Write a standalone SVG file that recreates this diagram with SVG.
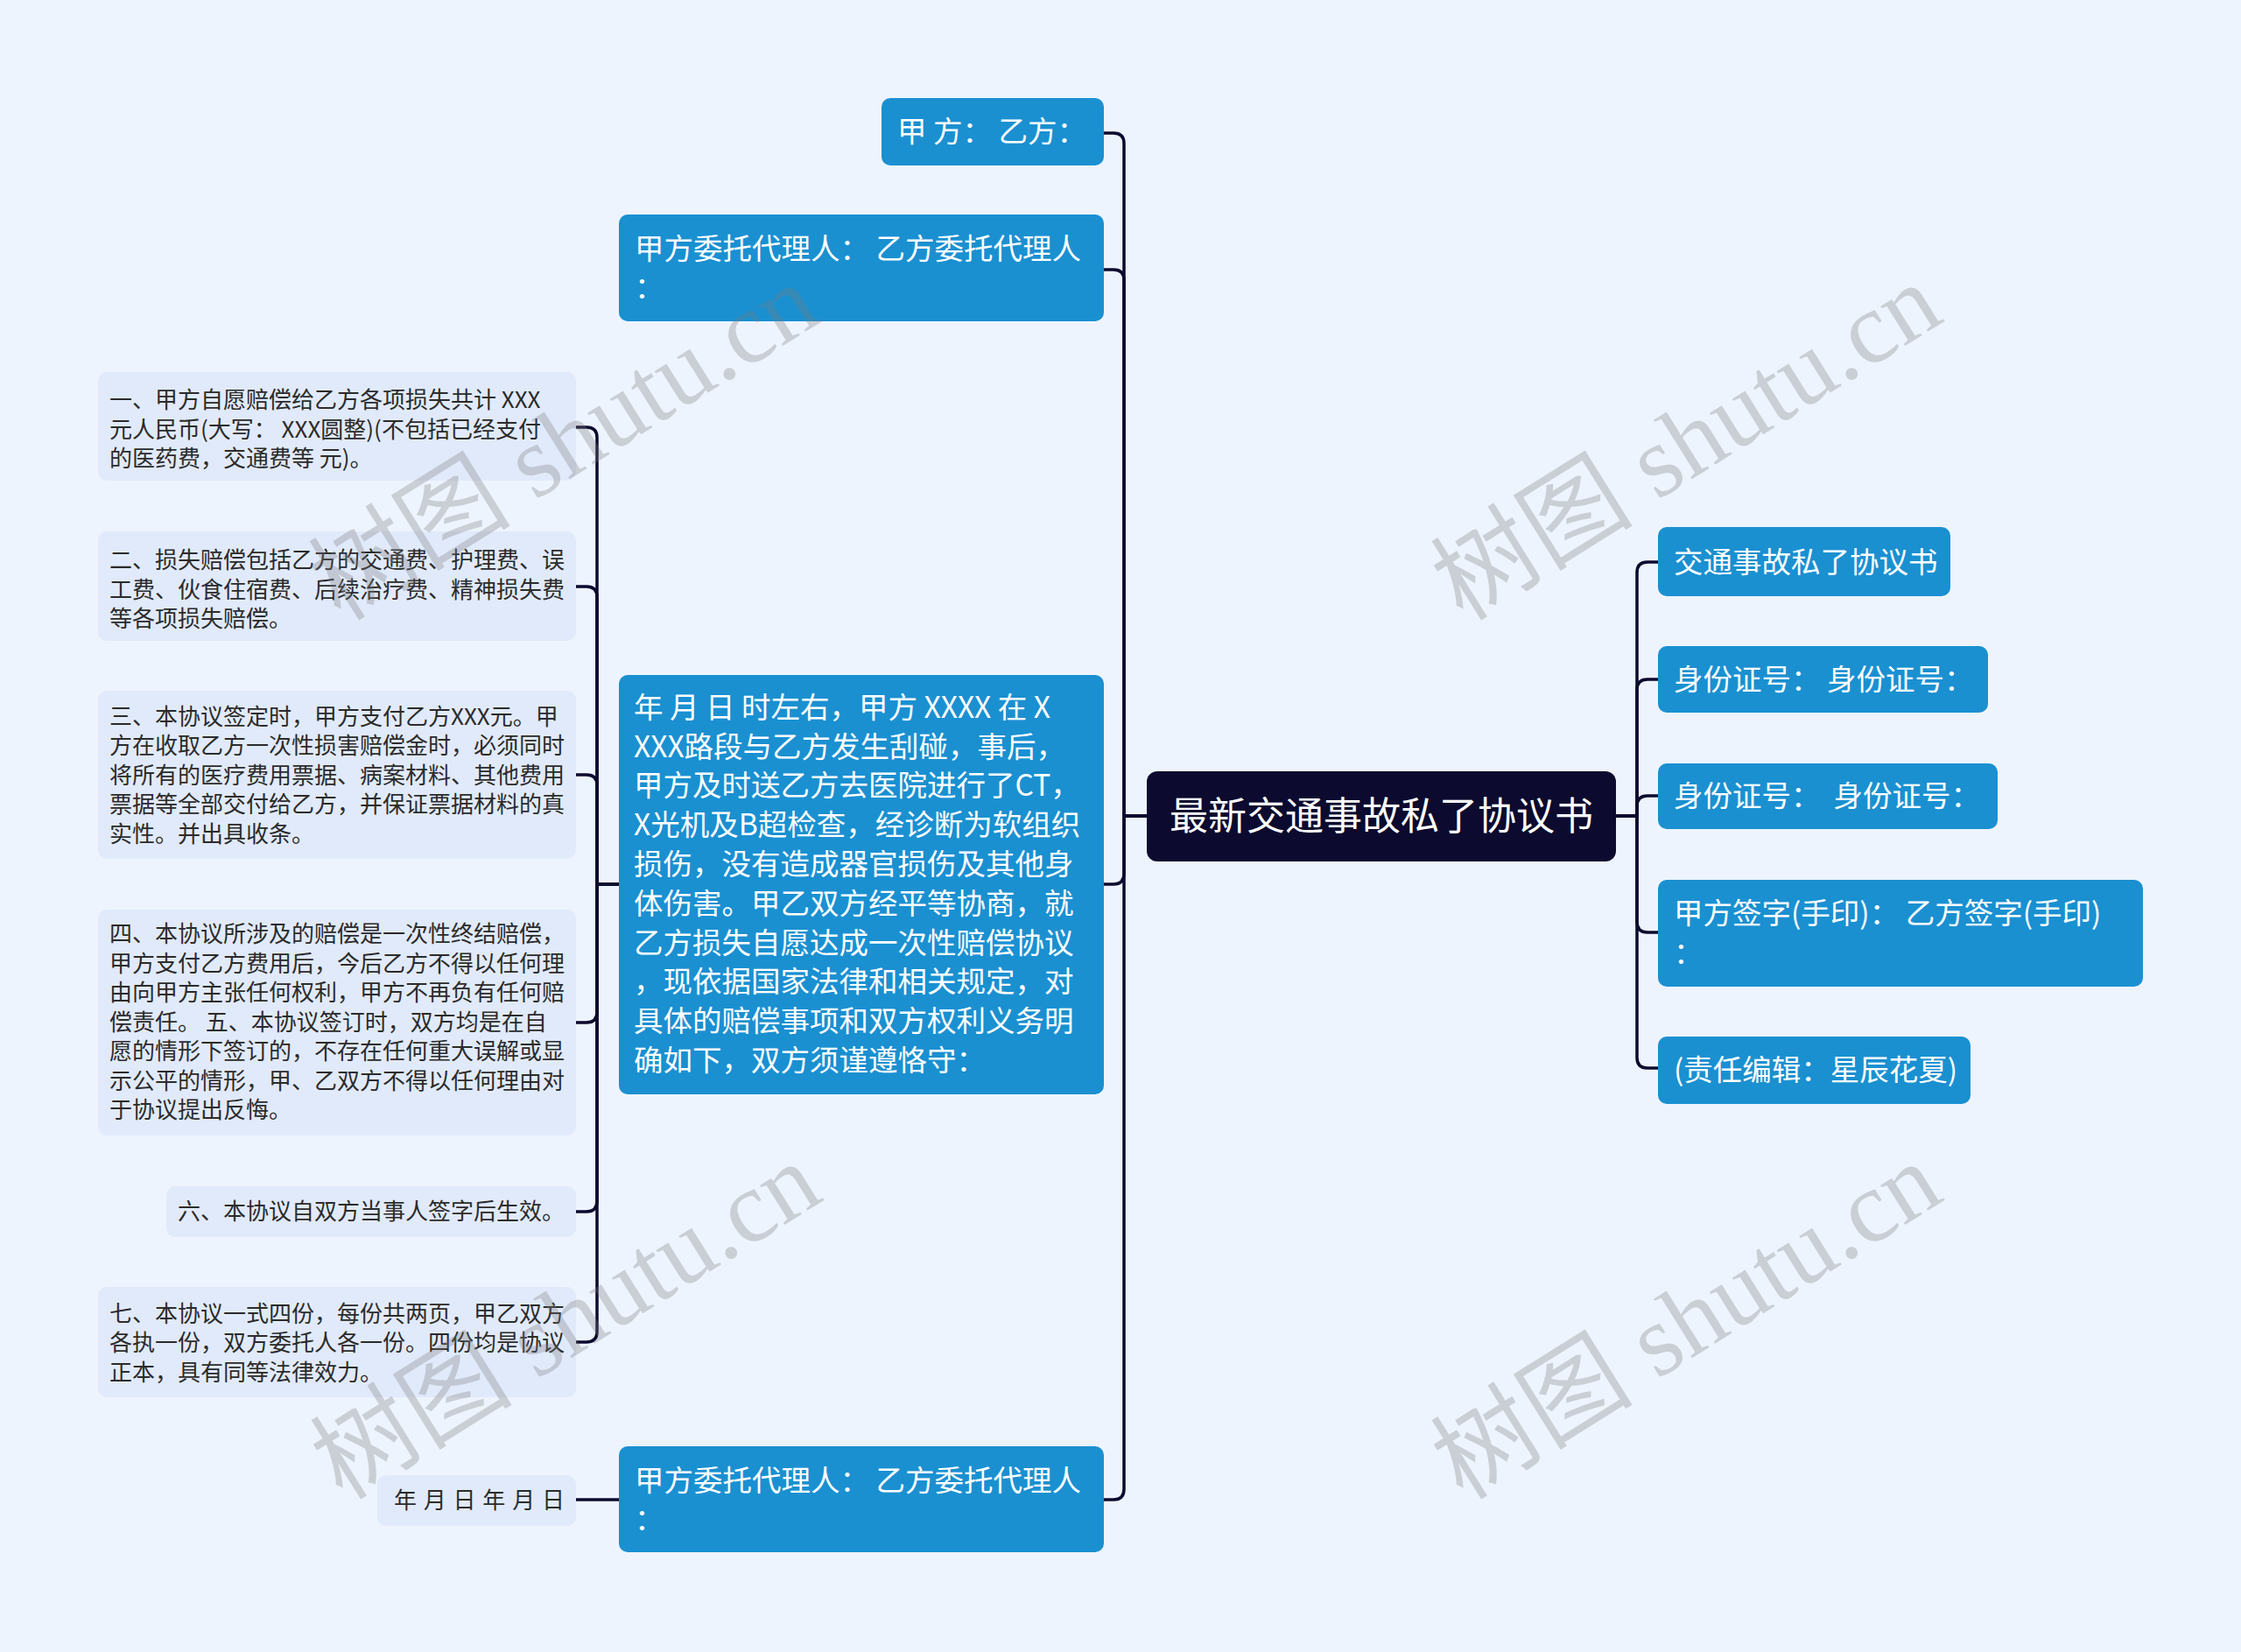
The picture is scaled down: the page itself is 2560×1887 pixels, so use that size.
<svg xmlns="http://www.w3.org/2000/svg" width="2560" height="1887" viewBox="0 0 2560 1887">
<style>
.bg{fill:#eef4fe}
.blue{fill:#1a90d1}
.root{fill:#0c0a2e}
.leaf{fill:#e1eafa}
.conn{fill:none;stroke:#0c0a2e;stroke-width:3.5;stroke-linecap:round;stroke-linejoin:round}
.tw{font-family:"Noto Sans CJK SC","Noto Sans",sans-serif;font-size:33.5px;fill:#ffffff}
.tr{font-family:"Noto Sans CJK SC","Noto Sans",sans-serif;font-size:44px;fill:#ffffff}
.tl{font-family:"Noto Sans CJK SC","Noto Sans",sans-serif;font-size:26px;fill:#2b2b2b}
.wm{font-family:"Liberation Serif","Noto Sans CJK SC",serif;font-size:116px;fill:#7a7a7a;opacity:0.3}
</style>
<rect class="bg" x="0" y="0" width="2560" height="1887"/>
<g id="connectors">
<path class="conn" d="M1310 932 H1284 V164 Q1284 152 1272 152 H1261"/>
<path class="conn" d="M1310 932 H1284 V320 Q1284 308 1272 308 H1261"/>
<path class="conn" d="M1310 932 H1284 V998 Q1284 1010 1272 1010 H1261"/>
<path class="conn" d="M1310 932 H1284 V1701 Q1284 1713 1272 1713 H1261"/>
<path class="conn" d="M1846 932 H1870 V654 Q1870 642 1882 642 H1894"/>
<path class="conn" d="M1846 932 H1870 V788 Q1870 776 1882 776 H1894"/>
<path class="conn" d="M1846 932 H1870 V921 Q1870 909 1882 909 H1894"/>
<path class="conn" d="M1846 932 H1870 V1053 Q1870 1065 1882 1065 H1894"/>
<path class="conn" d="M1846 932 H1870 V1208 Q1870 1220 1882 1220 H1894"/>
<path class="conn" d="M707 1010 H682 V500 Q682 488 670 488 H658"/>
<path class="conn" d="M707 1010 H682 V682 Q682 670 670 670 H658"/>
<path class="conn" d="M707 1010 H682 V897 Q682 885 670 885 H658"/>
<path class="conn" d="M707 1010 H682 V1156 Q682 1168 670 1168 H658"/>
<path class="conn" d="M707 1010 H682 V1372 Q682 1384 670 1384 H658"/>
<path class="conn" d="M707 1010 H682 V1521 Q682 1533 670 1533 H658"/>
<path class="conn" d="M707 1713 H658"/>
</g>
<g id="root">
<rect class="root" x="1310" y="881" width="536" height="103" rx="12"/>
<text class="tr" x="1578" y="948" text-anchor="middle">最新交通事故私了协议书</text>
</g>
<g id="n-jiafang">
<rect class="blue" x="1007" y="112" width="254" height="77" rx="10"/>
<text class="tw" x="1025" y="162" xml:space="preserve">甲 方： 乙方：</text>
</g>
<g id="n-daili1">
<rect class="blue" x="707" y="245" width="554" height="122" rx="10"/>
<text class="tw" x="725" y="296">甲方委托代理人： 乙方委托代理人</text>
<text class="tw" x="725" y="340">：</text>
</g>
<g id="n-para">
<rect class="blue" x="707" y="771" width="554" height="479" rx="10"/>
<text class="tw" x="724" y="820">年 月 日 时左右，甲方 XXXX 在 X</text>
<text class="tw" x="724" y="865">XXX路段与乙方发生刮碰，事后，</text>
<text class="tw" x="724" y="909">甲方及时送乙方去医院进行了CT，</text>
<text class="tw" x="724" y="954">X光机及B超检查，经诊断为软组织</text>
<text class="tw" x="724" y="999">损伤，没有造成器官损伤及其他身</text>
<text class="tw" x="724" y="1044">体伤害。甲乙双方经平等协商，就</text>
<text class="tw" x="724" y="1089">乙方损失自愿达成一次性赔偿协议</text>
<text class="tw" x="724" y="1133">，现依据国家法律和相关规定，对</text>
<text class="tw" x="724" y="1178">具体的赔偿事项和双方权利义务明</text>
<text class="tw" x="724" y="1223">确如下，双方须谨遵恪守：</text>
</g>
<g id="n-daili2">
<rect class="blue" x="707" y="1652" width="554" height="121" rx="10"/>
<text class="tw" x="725" y="1703">甲方委托代理人： 乙方委托代理人</text>
<text class="tw" x="725" y="1747">：</text>
</g>
<g id="r-title">
<rect class="blue" x="1894" y="602" width="334" height="79" rx="10"/>
<text class="tw" x="1912" y="654">交通事故私了协议书</text>
</g>
<g id="r-id1">
<rect class="blue" x="1894" y="738" width="377" height="76" rx="10"/>
<text class="tw" x="1912" y="788" xml:space="preserve">身份证号： 身份证号：</text>
</g>
<g id="r-id2">
<rect class="blue" x="1894" y="872" width="388" height="75" rx="10"/>
<text class="tw" x="1912" y="921" xml:space="preserve">身份证号：  身份证号：</text>
</g>
<g id="r-sign">
<rect class="blue" x="1894" y="1005" width="554" height="122" rx="10"/>
<text class="tw" x="1912" y="1055">甲方签字(手印)： 乙方签字(手印)</text>
<text class="tw" x="1912" y="1100">：</text>
</g>
<g id="r-editor">
<rect class="blue" x="1894" y="1184" width="357" height="77" rx="10"/>
<text class="tw" x="1912" y="1234">(责任编辑：星辰花夏)</text>
</g>
<g id="g1">
<rect class="leaf" x="112" y="425" width="546" height="124" rx="10"/>
<text class="tl" x="125" y="466">一、甲方自愿赔偿给乙方各项损失共计 XXX</text>
<text class="tl" x="125" y="500">元人民币(大写： XXX圆整)(不包括已经支付</text>
<text class="tl" x="125" y="533">的医药费，交通费等 元)。</text>
</g>
<g id="g2">
<rect class="leaf" x="112" y="607" width="546" height="125" rx="10"/>
<text class="tl" x="125" y="649">二、损失赔偿包括乙方的交通费、护理费、误</text>
<text class="tl" x="125" y="683">工费、伙食住宿费、后续治疗费、精神损失费</text>
<text class="tl" x="125" y="716">等各项损失赔偿。</text>
</g>
<g id="g3">
<rect class="leaf" x="112" y="789" width="546" height="192" rx="10"/>
<text class="tl" x="125" y="828">三、本协议签定时，甲方支付乙方XXX元。甲</text>
<text class="tl" x="125" y="861">方在收取乙方一次性损害赔偿金时，必须同时</text>
<text class="tl" x="125" y="895">将所有的医疗费用票据、病案材料、其他费用</text>
<text class="tl" x="125" y="928">票据等全部交付给乙方，并保证票据材料的真</text>
<text class="tl" x="125" y="962">实性。并出具收条。</text>
</g>
<g id="g4">
<rect class="leaf" x="112" y="1039" width="546" height="258" rx="10"/>
<text class="tl" x="125" y="1076">四、本协议所涉及的赔偿是一次性终结赔偿，</text>
<text class="tl" x="125" y="1110">甲方支付乙方费用后，今后乙方不得以任何理</text>
<text class="tl" x="125" y="1143">由向甲方主张任何权利，甲方不再负有任何赔</text>
<text class="tl" x="125" y="1177">偿责任。 五、本协议签订时，双方均是在自</text>
<text class="tl" x="125" y="1210">愿的情形下签订的，不存在任何重大误解或显</text>
<text class="tl" x="125" y="1244">示公平的情形，甲、乙双方不得以任何理由对</text>
<text class="tl" x="125" y="1277">于协议提出反悔。</text>
</g>
<g id="g6">
<rect class="leaf" x="190" y="1355" width="468" height="58" rx="10"/>
<text class="tl" x="203" y="1393">六、本协议自双方当事人签字后生效。</text>
</g>
<g id="g7">
<rect class="leaf" x="112" y="1470" width="546" height="126" rx="10"/>
<text class="tl" x="125" y="1510">七、本协议一式四份，每份共两页，甲乙双方</text>
<text class="tl" x="125" y="1543">各执一份，双方委托人各一份。四份均是协议</text>
<text class="tl" x="125" y="1577">正本，具有同等法律效力。</text>
</g>
<g id="g8">
<rect class="leaf" x="431" y="1685" width="227" height="58" rx="10"/>
<text class="tl" x="645" y="1723" text-anchor="end" word-spacing="2">年 月 日 年 月 日</text>
</g>
<g id="watermarks">
<text class="wm" transform="translate(645 506) rotate(-32)" x="0" y="38" text-anchor="middle">树图 shutu.cn</text>
<text class="wm" transform="translate(1927 506) rotate(-32)" x="0" y="38" text-anchor="middle">树图 shutu.cn</text>
<text class="wm" transform="translate(647 1510) rotate(-32)" x="0" y="38" text-anchor="middle">树图 shutu.cn</text>
<text class="wm" transform="translate(1927 1510) rotate(-32)" x="0" y="38" text-anchor="middle">树图 shutu.cn</text>
</g>
</svg>
